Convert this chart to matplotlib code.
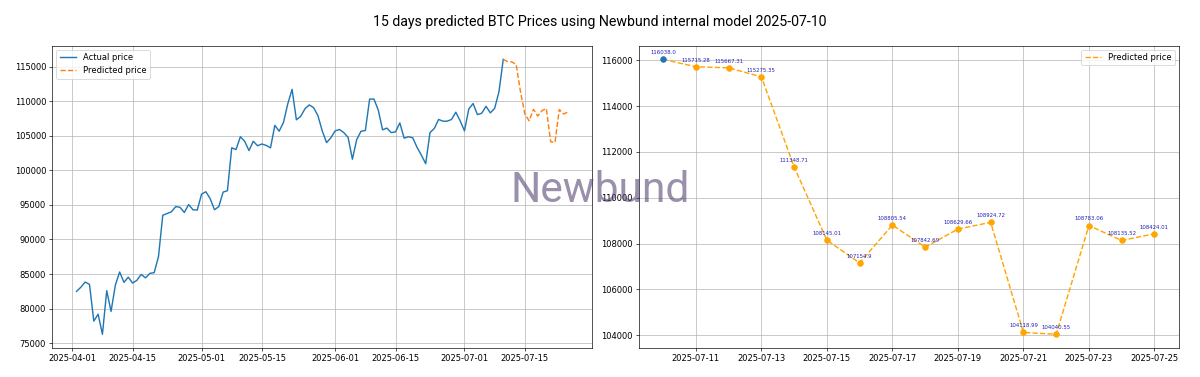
import matplotlib
matplotlib.use("Agg")
import matplotlib.pyplot as plt
import matplotlib.dates as mdates
import pandas as pd

# ---- data ----
actual_start = "2025-04-02"
actual_prices = [
    82500, 83100, 83850, 83500, 78200, 79200, 76300, 82600, 79600, 83400,
    85300, 83800, 84550, 83700, 84100, 84950, 84450, 85100, 85200, 87500,
    93500, 93750, 94000, 94750, 94650, 93900, 95050, 94300, 94250,
    96550, 96900, 95900, 94300, 94750, 96850, 97050, 103250, 103000, 104850,
    104200, 102850, 104200, 103550, 103800, 103600, 103250, 106500, 105650, 106900,
    109600, 111700, 107300, 107800, 108900, 109450, 109050, 107900, 105700, 104000,
    104700,
    105700, 105900, 105450, 104750, 101600, 104450, 105650, 105750, 110300, 110300,
    108700, 105850, 106100, 105450, 105550, 106850, 104650, 104850, 104700, 103300,
    102200, 100950, 105450, 106050, 107350, 107100, 107100, 107350, 108400, 107150,
    105700, 108850, 109650, 108050, 108250, 109250, 108300, 108950, 111350, 116038.0,
]
pred_start = "2025-07-10"
last_actual = 116038.0
predicted_prices = [
    115715.28, 115667.31, 115275.35, 111348.71, 108145.01, 107154.9, 108805.54,
    107842.69, 108629.66, 108924.72, 104118.99, 104040.55, 108783.06, 108135.52,
    108424.01,
]
title = "15 days predicted BTC Prices using Newbund internal model 2025-07-10"

actual_dates = pd.date_range(actual_start, periods=len(actual_prices), freq="D")
pred_vals = [last_actual] + predicted_prices
pred_dates = pd.date_range(pred_start, periods=len(pred_vals), freq="D")

DPI = 60
fig, (ax1, ax2) = plt.subplots(1, 2, figsize=(1200 / DPI, 377 / DPI), dpi=DPI)
fig.subplots_adjust(left=52 / 1200, right=1179 / 1200, top=1 - 45.6 / 377,
                    bottom=1 - 348 / 377, wspace=46 / 540)

# left panel
ax1.plot(actual_dates, actual_prices, color="#1f77b4", lw=1.7, label="Actual price")
ax1.plot(pred_dates, pred_vals, "--", color="#ff7f0e", lw=1.7, label="Predicted price")
ax1.xaxis.set_major_locator(mdates.DayLocator(bymonthday=[1, 15]))
ax1.xaxis.set_major_formatter(mdates.DateFormatter("%Y-%m-%d"))
ax1.grid(True)
ax1.legend(loc="upper left")

# right panel
ax2.plot(pred_dates, pred_vals, "--", color="orange", lw=1.7, label="Predicted price")
ax2.scatter(pred_dates[1:], predicted_prices, color="orange", s=45, zorder=3)
ax2.scatter(pred_dates[:1], [last_actual], color="#1f77b4", s=45, zorder=3)
for d, v in zip(pred_dates, pred_vals):
    ax2.annotate(f"{v}", (d, v), xytext=(0, 5), textcoords="offset points",
                 ha="center", va="bottom", fontsize=6.5, color="#2222bb")
ax2.xaxis.set_major_locator(mdates.DayLocator(bymonthday=list(range(1, 32, 2))))
ax2.xaxis.set_major_formatter(mdates.DateFormatter("%Y-%m-%d"))
ax2.grid(True)
ax2.legend(loc="upper right")

fig.suptitle(title, y=1 - 22 / 377, va="center", fontsize=17, family="Roboto")
fig.text(0.5, 1 - 190 / 377, "Newbund", ha="center", va="center", fontsize=51,
         family="Roboto", color="#574673", alpha=0.6, zorder=5)

fig.savefig("out.png", dpi=DPI)
